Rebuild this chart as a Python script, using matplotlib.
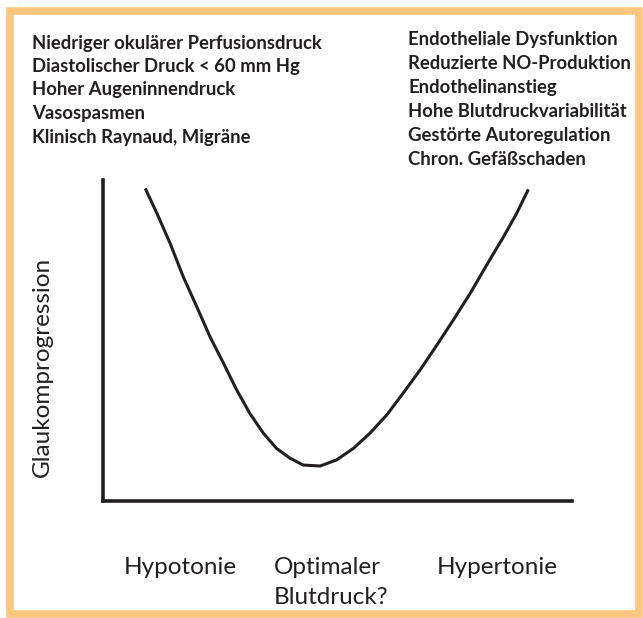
import matplotlib.pyplot as plt
from matplotlib.patches import Rectangle

W, H = 643, 618

# curve (x: blood pressure, y: progression, both 0..100)
bp = [9.0, 11.5, 14.3, 17.1, 20.0, 22.8, 25.7, 28.5, 31.3, 34.2, 37.0, 39.9,
      42.7, 46.3, 49.8, 53.4, 56.9, 60.5, 64.0, 67.6, 71.2, 74.7, 78.3, 81.8,
      85.4, 88.2, 90.7]
progression = [97.4, 89.6, 80.3, 69.9, 60.5, 51.2, 42.9, 34.6, 27.3, 21.1, 16.4,
               13.3, 11.2, 10.9, 12.8, 16.4, 21.1, 26.8, 33.6, 40.8, 48.6, 56.4,
               64.7, 73.5, 82.3, 89.6, 97.1]

left_list = ["Niedriger okulärer Perfusionsdruck",
             "Diastolischer Druck < 60 mm Hg",
             "Hoher Augeninnendruck",
             "Vasospasmen",
             "Klinisch Raynaud, Migräne"]
right_list = ["Endotheliale Dysfunktion",
              "Reduzierte NO-Produktion",
              "Endothelinanstieg",
              "Hohe Blutdruckvariabilität",
              "Gestörte Autoregulation",
              "Chron. Gefäßschaden"]
x_labels = ["Hypotonie", "Optimaler\nBlutdruck?", "Hypertonie"]
y_label = "Glaukomprogression"

ink = '#231f20'
orange = '#fdc680'

plt.rcParams['font.family'] = ['Lato', 'DejaVu Sans']

fig = plt.figure(figsize=(W / 100, H / 100), dpi=100)
fig.patch.set_facecolor('white')

def fx(px):
    return px / W

def fy(py):
    return 1 - py / H

# orange frame
fig.patches.append(Rectangle((fx(10), fy(614)), fx(629), 603 / H, transform=fig.transFigure,
                             fill=False, edgecolor=orange, linewidth=5.5, zorder=0))

ax = fig.add_axes([fx(103), fy(501), fx(572) - fx(103), (501 - 180) / H])
ax.plot(bp, progression, color=ink, lw=2.2, solid_joinstyle='round',
        solid_capstyle='butt')
ax.set_xlim(0, 100)
ax.set_ylim(0, 100)
for s in ['top', 'right']:
    ax.spines[s].set_visible(False)
for s in ['left', 'bottom']:
    ax.spines[s].set_linewidth(2.6)
    ax.spines[s].set_color(ink)
ax.set_xticks([])
ax.set_yticks([])
ax.patch.set_alpha(0)

for i, t in enumerate(left_list):
    fig.text(fx(32), fy(43 + i * 23.5), t, fontsize=13.3, fontweight='bold',
             color=ink, ha='left', va='center')
for i, t in enumerate(right_list):
    fig.text(fx(408), fy(40 + i * 23.9), t, fontsize=13.3, fontweight='bold',
             color=ink, ha='left', va='center')

# x-axis category labels under the plot
fig.text(fx(180), fy(567), x_labels[0], fontsize=17.5, color=ink, ha='center', va='center')
for j, line in enumerate(x_labels[1].split('\n')):
    fig.text(fx(274), fy(567 + j * 31), line, fontsize=17.5, color=ink,
             ha='left', va='center')
fig.text(fx(497), fy(567), x_labels[2], fontsize=17.5, color=ink, ha='center', va='center')

fig.text(fx(42), fy(367), y_label, fontsize=17.5, color=ink, rotation=90,
         ha='center', va='center')

fig.savefig('out.png', dpi=100)
